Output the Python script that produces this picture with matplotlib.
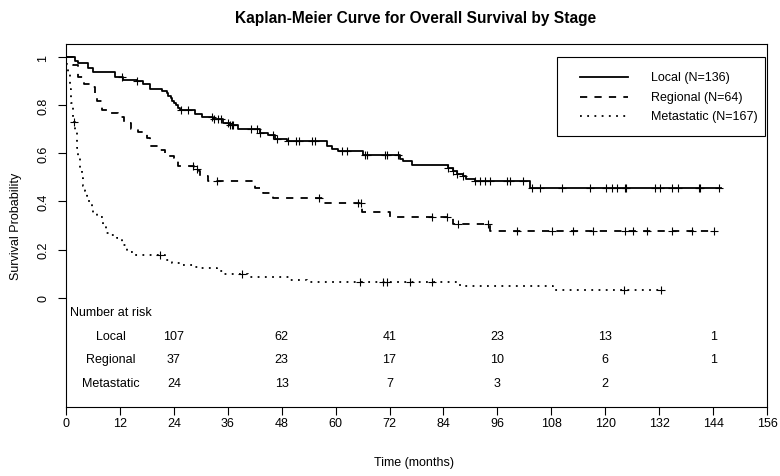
import numpy as np
import matplotlib
matplotlib.use("Agg")
import matplotlib.pyplot as plt
from matplotlib.lines import Line2D
from matplotlib.patches import Rectangle

plt.rcParams['font.family'] = ['Liberation Sans', 'DejaVu Sans']

# ---------------- data ----------------
local_times = [2.0, 2.7, 5.0, 6.1, 10.9, 12.7, 15.7, 17.2, 18.7, 21.3, 22.4,
               22.8, 23.3, 23.7, 24.1, 24.5, 24.9, 25.3,
               28.7, 30.2, 32.7, 34.9, 36.5, 38.3, 43.2, 44.9, 46.5, 49.1,
               58.0, 59.1, 60.5, 66.1, 74.3, 75.0, 77.0,
               85.0, 86.1, 87.0, 88.3, 89.0, 91.0, 103.2]
local_surv = [0.985, 0.975, 0.955, 0.94, 0.92, 0.906, 0.90, 0.888, 0.867, 0.86, 0.853,
              0.84, 0.83, 0.82, 0.81, 0.80, 0.79, 0.78,
              0.763, 0.752, 0.742, 0.728, 0.718, 0.70, 0.686, 0.675, 0.661, 0.654,
              0.633, 0.62, 0.61, 0.595, 0.579, 0.568, 0.551,
              0.54, 0.526, 0.515, 0.506, 0.495, 0.484, 0.455]
local_cens = [12.4, 15.7, 25.5, 27.2, 32.6, 32.9, 33.8, 34.6, 36.0, 36.5, 37.0, 37.2,
              41.2, 42.5, 43.2, 46.1, 47.0, 49.3, 51.2, 51.9, 54.7, 55.4,
              61.4, 62.5, 66.5, 67.0, 71.0, 71.4, 73.9,
              85.0, 86.1, 87.0, 88.3, 91.0, 92.1, 93.2, 94.3, 98.1, 98.8, 101.7,
              103.7, 105.5, 110.4, 116.6, 120.2, 121.5, 122.6, 124.5, 124.7,
              131.1, 132.2, 134.9, 136.2, 140.8, 141.0, 145.4]
local_end = 145.8

reg_times = [1.5, 2.7, 4.0, 5.5, 6.5, 7.0, 8.0, 10.0, 11.5, 13.0, 14.5, 16.0,
             18.0, 18.7, 20.5, 22.0, 24.0, 25.0, 28.5, 29.5, 29.8, 31.5,
             42.0, 43.9, 46.1, 57.3, 65.9, 72.2, 86.2, 94.4]
reg_surv = [0.97, 0.92, 0.89, 0.875, 0.85, 0.82, 0.78, 0.77, 0.75, 0.725, 0.70, 0.69,
            0.665, 0.63, 0.615, 0.59, 0.58, 0.548, 0.535, 0.525, 0.505, 0.484,
            0.456, 0.435, 0.414, 0.395, 0.356, 0.336, 0.305, 0.277]
reg_cens = [28.3, 29.2, 33.5, 56.4, 65.0, 65.6, 81.4, 84.7, 87.3, 93.9,
            100.3, 108.1, 112.9, 117.3, 124.4, 126.2, 129.2, 134.8, 139.2, 144.3]
reg_end = 144.3

met_times = [0.3, 0.5, 0.9, 1.1, 1.6, 2.0, 2.4, 2.7, 3.1, 3.5, 3.8, 4.2, 4.6, 5.0,
             5.7, 6.1, 6.8, 8.2, 9.0, 9.8, 11.3, 12.5, 13.6, 15.2,
             22.0, 23.5, 25.5, 28.5, 30.0, 33.5, 35.0, 40.5, 49.8, 53.6, 87.7, 108.4]
met_surv = [0.97, 0.93, 0.87, 0.81, 0.73, 0.693, 0.623, 0.58, 0.54, 0.498, 0.463, 0.442,
            0.421, 0.40, 0.372, 0.351, 0.337, 0.296, 0.27, 0.26, 0.247, 0.219, 0.191, 0.177,
            0.155, 0.142, 0.135, 0.128, 0.121, 0.11, 0.10, 0.087, 0.075, 0.066, 0.05, 0.03]
met_cens = [1.8, 20.9, 39.1, 65.4, 70.5, 71.4, 76.5, 81.4, 124.2, 132.3]
met_end = 132.3

groups = ['Local', 'Regional', 'Metastatic']
legend_labels = ['Local (N=136)', 'Regional (N=64)', 'Metastatic (N=167)']
risk_times = [24, 48, 72, 96, 120, 144]
risk_local = ['107', '62', '41', '23', '13', '1']
risk_regional = ['37', '23', '17', '10', '6', '1']
risk_metastatic = ['24', '13', '7', '3', '2', '']

x_ticks = list(range(0, 157, 12))
y_ticks = [0, 0.2, 0.4, 0.6, 0.8, 1]
y_ticklabels = ['0', '0.2', '0.4', '0.6', '0.8', '1']

# ---------------- plot ----------------
FS = 9
W, H = 780, 477
fig = plt.figure(figsize=(7.8, 4.77), dpi=100)
ax = fig.add_axes([66/W, 1-408/H, 701/W, 363/H])

styles = [dict(ls='-'), dict(ls=(0, (4, 4))), dict(ls=(0, (1, 3)))]
lw = 1.3
series = [(local_times, local_surv, local_cens, local_end),
          (reg_times, reg_surv, reg_cens, reg_end),
          (met_times, met_surv, met_cens, met_end)]

for (t, s, c, end), st in zip(series, styles):
    tt = np.concatenate([[0], t, [end]])
    ss = np.concatenate([[1.0], s, [s[-1]]])
    ax.step(tt, ss, where='post', color='black', lw=lw, **st)
    t_arr = np.concatenate([[0], t])
    s_arr = np.concatenate([[1.0], s])
    idx = np.searchsorted(t_arr, c, side='right') - 1
    ax.plot(c, s_arr[idx], ls='none', marker='+', ms=6, mew=0.8, color='black')

ax.set_xlim(0, 156)
ax.set_ylim(-0.456, 1.056)
ax.set_xticks(x_ticks)
ax.set_xticklabels([str(v) for v in x_ticks], fontsize=FS)
ax.set_yticks(y_ticks)
ax.set_yticklabels(y_ticklabels, fontsize=FS, rotation=90, va='center')
ax.tick_params(axis='x', direction='out', length=6, width=0.8, pad=1)
ax.tick_params(axis='y', direction='out', length=6, width=0.8, pad=6)
for sp in ax.spines.values():
    sp.set_linewidth(0.8)

fig.text(16/W, 1-226/H, 'Survival Probability', rotation=90,
         ha='center', va='center', fontsize=FS)
fig.text(414/W, 1-463/H, 'Time (months)', ha='center', va='center', fontsize=FS)
fig.text(416/W, 1-18/H, 'Kaplan-Meier Curve for Overall Survival by Stage',
         ha='center', va='center', fontsize=11.2, fontweight='bold')

# number at risk table
ax.text(1.0, -0.06, 'Number at risk', fontsize=FS, ha='left', va='center')
row_y = [-0.16, -0.255, -0.355]
for g, y, vals in zip(groups, row_y, [risk_local, risk_regional, risk_metastatic]):
    ax.text(10, y, g, fontsize=FS, ha='center', va='center')
    for tx, v in zip(risk_times, vals):
        ax.text(tx, y, v, fontsize=FS, ha='center', va='center')

# legend box (drawn in figure pixel coordinates)
fig.patches.append(Rectangle((557/W, 1-137/H), 208/W, 79/H, transform=fig.transFigure,
                             fill=True, facecolor='white', edgecolor='black', lw=0.8,
                             zorder=5))
leg_rows = [78, 97.5, 117]
for lbl, st, yy in zip(legend_labels, styles, leg_rows):
    fig.lines.append(Line2D([580/W, 628/W], [1-yy/H, 1-yy/H], transform=fig.transFigure,
                            color='black', lw=lw, zorder=6, **st))
    fig.text(651/W, 1-yy/H, lbl, ha='left', va='center', fontsize=FS, zorder=6)

fig.savefig('out.png', dpi=100)
